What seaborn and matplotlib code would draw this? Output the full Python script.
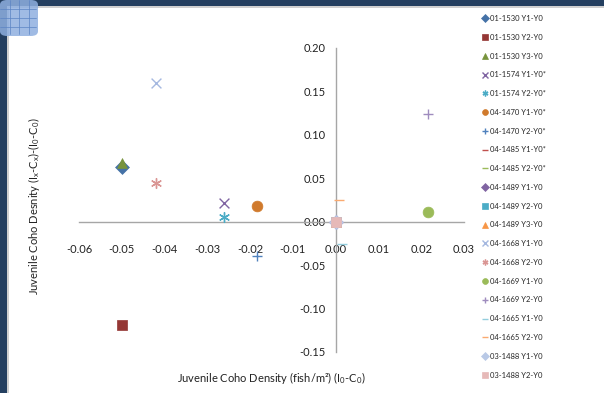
import matplotlib
matplotlib.use("Agg")
import matplotlib.pyplot as plt
import seaborn as sns
from matplotlib.patches import FancyBboxPatch, Rectangle
from matplotlib.lines import Line2D

sns.set_style("white")
plt.rcParams['font.family'] = ['Lato', 'DejaVu Sans']
plt.rcParams['mathtext.default'] = 'regular'

labels = ["01-1530 Y1-Y0", "01-1530 Y2-Y0", "01-1530 Y3-Y0",
          "01-1574 Y1-Y0*", "01-1574 Y2-Y0*", "04-1470 Y1-Y0*",
          "04-1470 Y2-Y0*", "04-1485 Y1-Y0*", "04-1485 Y2-Y0*",
          "04-1489 Y1-Y0", "04-1489 Y2-Y0", "04-1489 Y3-Y0",
          "04-1668 Y1-Y0", "04-1668 Y2-Y0", "04-1669 Y1-Y0",
          "04-1669 Y2-Y0", "04-1665 Y1-Y0", "04-1665 Y2-Y0",
          "03-1488 Y1-Y0", "03-1488 Y2-Y0"]
x_vals = [-0.050, -0.050, -0.050, -0.026, -0.026, -0.0185, -0.0185, 0.0, 0.0,
          0.0, 0.0, 0.0, -0.042, -0.042, 0.0215, 0.0215, 0.0015, 0.0008, 0.0, 0.0]
y_vals = [0.063, -0.119, 0.068, 0.022, 0.005, 0.018, -0.040, 0.0, 0.0,
          0.0, 0.0, 0.0, 0.160, 0.045, 0.011, 0.124, -0.026, 0.025, 0.0, 0.0]
colors = ["#4572A7", "#953735", "#77933C", "#8064A2", "#4BACC6", "#D07A2C",
          "#4F81BD", "#C0504D", "#9BBB59", "#8064A2", "#4BACC6", "#F79646",
          "#A5B8E0", "#DA9694", "#9BBB59", "#9F8CBE", "#93CDDD", "#FAAA70",
          "#B9C9E6", "#E6B9B8"]
markers = ["D", "s", "^", "x", (6, 2, 0), "o", "+", "_", "_", "D", "s", "^",
           "x", (6, 2, 0), "o", "+", "_", "_", "D", "s"]
x_ticks = [-0.06, -0.05, -0.04, -0.03, -0.02, -0.01, 0.00, 0.01, 0.02, 0.03]
y_ticks = [-0.15, -0.10, -0.05, 0.00, 0.05, 0.10, 0.15, 0.20]

fig = plt.figure(figsize=(6.04, 3.93), dpi=100)
ax = fig.add_axes([79 / 604, 1 - 352 / 393, (464 - 79) / 604, (352 - 48) / 393])

unfilled = {"x", "+", "_"}
handles = []
for lab, xv, yv, c, m in zip(labels, x_vals, y_vals, colors, markers):
    is_line = (m in unfilled) if isinstance(m, str) else True
    size = 60 if m in ("o", "s") else 50
    sns.scatterplot(x=[xv], y=[yv], ax=ax, marker=m, color=c, s=size,
                    edgecolor=c, linewidth=1.0 if is_line else 0.5, zorder=3)
    handles.append(Line2D([], [], linestyle="none", marker=m, color=c,
                          markerfacecolor=c, markeredgecolor=c,
                          markersize=4.2, markeredgewidth=1.0 if is_line else 0.5))

ax.set_xlim(-0.06, 0.03)
ax.set_ylim(-0.15, 0.20)
ax.set_xticks(x_ticks)
ax.set_yticks(y_ticks)
ax.set_xticklabels([f"{v:.2f}" for v in x_ticks])
ax.set_yticklabels([f"{v:.2f}" for v in y_ticks])

for s in ("top", "right"):
    ax.spines[s].set_visible(False)
ax.spines["left"].set_position(("data", 0))
ax.spines["bottom"].set_position(("data", 0))
for s in ("left", "bottom"):
    ax.spines[s].set_color("#A6A6A6")
    ax.spines[s].set_linewidth(1.0)
ax.tick_params(axis="both", direction="out", length=4, width=1,
               color="#A6A6A6", labelsize=8, labelcolor="#222222", pad=3)
ax.tick_params(axis="x", pad=12)
ax.grid(False)

ax.set_xlabel("Juvenile Coho Density (fish/m²) (I$_0$-C$_0$)", fontsize=8, color="#222222")
ax.set_ylabel("Juvenile Coho Desnity (I$_x$-C$_x$)-(I$_0$-C$_0$)", fontsize=8, color="#222222")
ax.xaxis.set_label_coords(0.5, -0.06)
ax.yaxis.set_label_coords(-0.095, 0.48)

fig.legend(handles, labels, loc="upper left", bbox_to_anchor=(482 / 604, 1 - 15 / 393),
           frameon=False, fontsize=5.5, handlelength=0.8, handletextpad=0.3,
           labelspacing=1.54, borderaxespad=0, borderpad=0)

# frame decorations
fig.patches.append(Rectangle((0, 0), 7 / 604, 1, transform=fig.transFigure,
                             facecolor="#243F60", edgecolor="none", zorder=0))
fig.patches.append(Rectangle((0, 1 - 6 / 393), 1, 6 / 393, transform=fig.transFigure,
                             facecolor="#243F60", edgecolor="none", zorder=0))
fig.patches.append(Rectangle((7 / 604, 0), 1.5 / 604, 1 - 6 / 393, transform=fig.transFigure,
                             facecolor="#D0D0D0", edgecolor="none", zorder=0))
fig.patches.append(Rectangle((7 / 604, 1 - 7.5 / 393), 1 - 7 / 604, 1.5 / 393,
                             transform=fig.transFigure,
                             facecolor="#D0D0D0", edgecolor="none", zorder=0))
fig.patches.append(FancyBboxPatch((0, 1 - 36 / 393), 38 / 604, 36 / 393,
                                  boxstyle="round,pad=0,rounding_size=0.012",
                                  transform=fig.transFigure, facecolor="#8FB0E0",
                                  edgecolor="none", alpha=0.85, zorder=1))
for i in range(1, 4):
    fig.lines.append(Line2D([i * 9.5 / 604, i * 9.5 / 604], [1 - 34 / 393, 1],
                            transform=fig.transFigure, color="#5B84C4", lw=0.5))
    fig.lines.append(Line2D([0, 36 / 604], [1 - i * 9 / 393, 1 - i * 9 / 393],
                            transform=fig.transFigure, color="#5B84C4", lw=0.5))

fig.savefig("out.png", dpi=100)
